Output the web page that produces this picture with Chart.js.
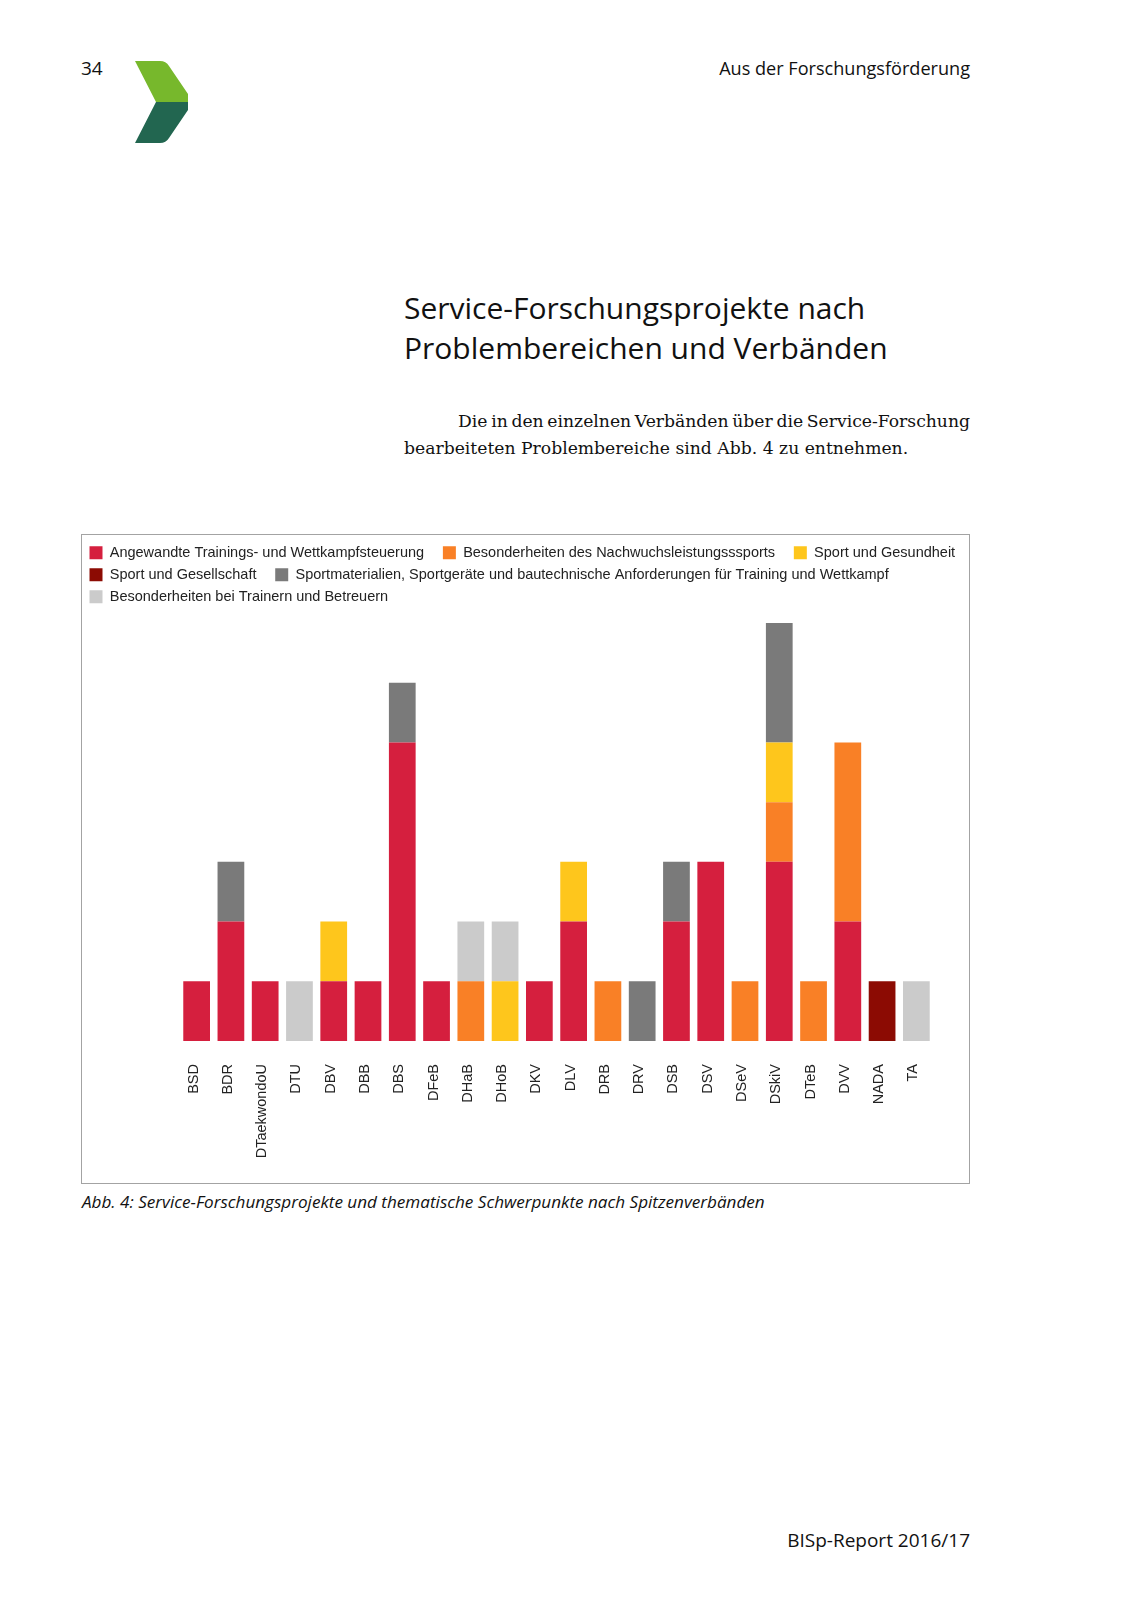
<!DOCTYPE html>
<html lang="de">
<head>
<meta charset="utf-8">
<script src="https://cdn.jsdelivr.net/npm/chart.js@4"></script>
<style>
  body { margin: 0; background: #fff; }
  .page { position: relative; width: 1132px; height: 1600px; color: #111; font-family: "Open Sans", "Noto Sans", sans-serif; }
  .abs { position: absolute; white-space: nowrap; }
  .pno { left: 81px; top: 55px; font-size: 19px; }
  .head { right: 162px; top: 56px; font-size: 18.1px; }
  .title { left: 404px; top: 288px; font-size: 30px; line-height: 39.5px; }
  .para { left: 404px; top: 408px; width: 566px; font-family: "DejaVu Serif", serif; font-size: 17.2px; line-height: 26.5px; }
  .para .l1 { text-indent: 54px; word-spacing: -2px; text-align: justify; text-align-last: justify; }
  .frame { position: absolute; left: 81px; top: 534px; width: 889px; height: 650px; border: 1px solid #a3a3a3; box-sizing: border-box; }
  .frame .wrap { position: relative; width: 887px; height: 648px; }
  .cap { left: 82px; top: 1190px; font-size: 17.1px; font-style: italic; }
  .foot { right: 162px; top: 1527px; font-size: 19px; }
</style>
</head>
<body>
<div class="page">
  <div class="abs pno">34</div>
  <svg class="abs" style="left:0;top:0" width="220" height="160">
    <path d="M135 61 L160 61 Q166 61 169 66 L188 94 L188 102 L156 102 Z" fill="#77b82c"/>
    <path d="M156 102 L188 102 L188 110 L169 138 Q166 143 160 143 L135 143 Z" fill="#226650"/>
  </svg>
  <div class="abs head">Aus der Forschungsförderung</div>
  <div class="abs title">Service-Forschungsprojekte nach<br>Problembereichen und Verbänden</div>
  <div class="abs para">
    <div class="l1">Die in den einzelnen Verbänden über die Service-Forschung</div>
    <div>bearbeiteten Problembereiche sind Abb. 4 zu entnehmen.</div>
  </div>
  <div class="frame"><div class="wrap"><canvas id="chart"></canvas></div></div>
  <div class="abs cap">Abb. 4: Service-Forschungsprojekte und thematische Schwerpunkte nach Spitzenverbänden</div>
  <div class="abs foot">BISp-Report 2016/17</div>
</div>
<script>
const verbaende = ['BSD', 'BDR', 'DTaekwondoU', 'DTU', 'DBV', 'DBB', 'DBS', 'DFeB', 'DHaB', 'DHoB', 'DKV',
    'DLV', 'DRB', 'DRV', 'DSB', 'DSV', 'DSeV', 'DSkiV', 'DTeB', 'DVV', 'NADA', 'TA'];

const trainingSteuerung = [1, 2, 1, 0, 1, 1, 5, 1, 0, 0, 1, 2, 0, 0, 2, 3, 0, 3, 0, 2, 0, 0];
const nachwuchs         = [0, 0, 0, 0, 0, 0, 0, 0, 1, 0, 0, 0, 1, 0, 0, 0, 1, 1, 1, 3, 0, 0];
const gesundheit        = [0, 0, 0, 0, 1, 0, 0, 0, 0, 1, 0, 1, 0, 0, 0, 0, 0, 1, 0, 0, 0, 0];
const gesellschaft      = [0, 0, 0, 0, 0, 0, 0, 0, 0, 0, 0, 0, 0, 0, 0, 0, 0, 0, 0, 0, 1, 0];
const sportmaterialien  = [0, 1, 0, 0, 0, 0, 1, 0, 0, 0, 0, 0, 0, 1, 1, 0, 0, 2, 0, 0, 0, 0];
const trainerBetreuer   = [0, 0, 0, 1, 0, 0, 0, 0, 1, 1, 0, 0, 0, 0, 0, 0, 0, 0, 0, 0, 0, 1];

const serien = [
    ['Angewandte Trainings- und Wettkampfsteuerung', trainingSteuerung, '#d51f3e'],
    ['Besonderheiten des Nachwuchsleistungsssports', nachwuchs, '#f98026'],
    ['Sport und Gesundheit', gesundheit, '#fec61c'],
    ['Sport und Gesellschaft', gesellschaft, '#8c0b03'],
    ['Sportmaterialien, Sportgeräte und bautechnische Anforderungen für Training und Wettkampf', sportmaterialien, '#7a7a7a'],
    ['Besonderheiten bei Trainern und Betreuern', trainerBetreuer, '#cbcbcb']
];

// items that have a neighbour on their right get a wider gap
const legendMitAbstand = [0, 1, 3];

// extra space between legend and bars
const legendGap = {
    id: 'legendGap',
    beforeInit(chart) {
        const fit = chart.legend.fit;
        chart.legend.fit = function () {
            fit.bind(chart.legend)();
            this.height += 9;
        };
    }
};

new Chart(document.getElementById('chart'), {
    type: 'bar',
    data: {
        labels: verbaende,
        datasets: serien.map(s => ({
            label: s[0],
            data: s[1],
            backgroundColor: s[2],
            borderWidth: 0,
            barPercentage: 0.78,
            categoryPercentage: 1
        }))
    },
    options: {
        responsive: true,
        maintainAspectRatio: false,
        animation: false,
        layout: { padding: { top: 3 } },
        plugins: {
            tooltip: { enabled: false },
            legend: {
                position: 'top',
                align: 'start',
                labels: {
                    boxWidth: 13,
                    boxHeight: 13,
                    padding: 7.5,
                    color: '#222',
                    font: { family: 'Liberation Sans, Arial, sans-serif', size: 14.5 },
                    generateLabels(chart) {
                        const items = Chart.defaults.plugins.legend.labels.generateLabels(chart);
                        items.forEach((it, i) => {
                            if (legendMitAbstand.includes(i))
                                it.text += '\u2002 ';
                        });
                        return items;
                    }
                }
            }
        },
        scales: {
            x: {
                stacked: true,
                grid: { display: false, drawTicks: false },
                border: { display: false },
                ticks: {
                    autoSkip: false,
                    minRotation: 90,
                    maxRotation: 90,
                    padding: 23,
                    labelOffset: -3,
                    color: '#222',
                    font: { family: 'Liberation Sans, Arial, sans-serif', size: 14.5 }
                },
                afterFit: axis => { axis.height = 142; }
            },
            y: {
                stacked: true,
                min: 0,
                max: 7,
                grid: { display: false, drawTicks: false },
                border: { display: false },
                ticks: { display: false },
                afterFit: axis => { axis.width = 97.5; }
            },
            yRight: {
                position: 'right',
                min: 0,
                max: 7,
                grid: { display: false, drawTicks: false },
                border: { display: false },
                ticks: { display: false },
                afterFit: axis => { axis.width = 35.5; }
            }
        }
    },
    plugins: [legendGap]
});
</script>
</body>
</html>
